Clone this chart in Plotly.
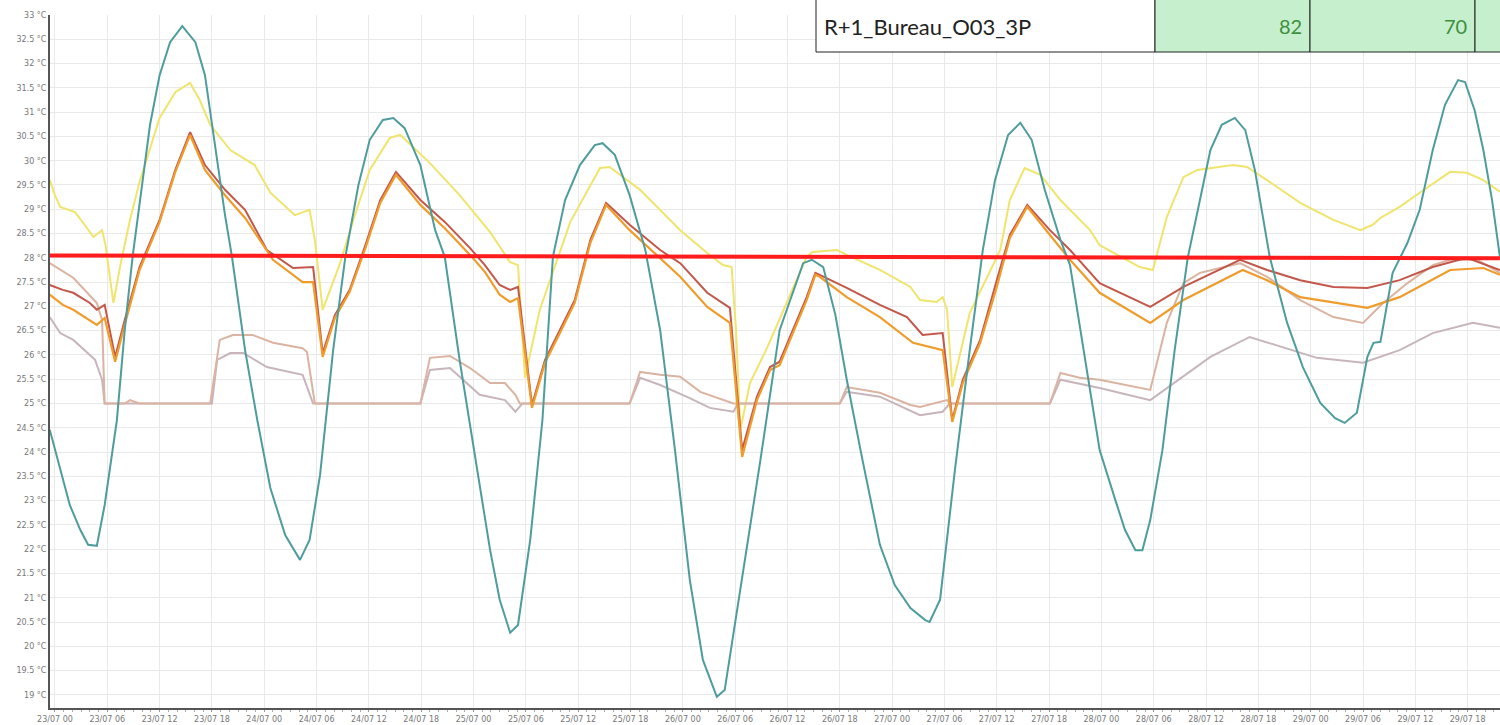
import pandas as pd
import plotly.graph_objects as go

# ---------------- data (hours after 23/07 00:00, temperature in °C) ----------------
OUTDOOR = [(-0.6, 24.46), (0.6, 23.63), (1.7, 22.91), (2.9, 22.40), (3.8, 22.09), (4.8, 22.07),
           (5.7, 22.91), (7.1, 24.66), (8.0, 26.51), (8.9, 28.02), (10.0, 29.50), (10.9, 30.74),
           (12.0, 31.76), (13.2, 32.44), (14.6, 32.77), (16.1, 32.44), (17.2, 31.76), (18.4, 30.22),
           (19.5, 28.88), (20.3, 28.02), (21.8, 26.10), (23.2, 24.66), (24.7, 23.26), (26.4, 22.29),
           (28.1, 21.78), (29.2, 22.19), (30.4, 23.53), (31.9, 26.10), (33.3, 28.02), (34.8, 29.50),
           (36.1, 30.43), (37.6, 30.84), (38.8, 30.88), (40.1, 30.67), (41.9, 29.91), (43.6, 28.57),
           (44.7, 28.02), (46.4, 25.90), (48.2, 23.84), (49.9, 21.98), (51.0, 20.96), (52.2, 20.28),
           (53.1, 20.44), (54.5, 22.19), (55.9, 24.66), (57.1, 28.02), (58.5, 29.19), (60.2, 29.91),
           (61.9, 30.32), (62.8, 30.36), (64.2, 30.12), (65.9, 29.29), (67.7, 28.16), (69.4, 26.51),
           (71.1, 24.04), (72.8, 21.37), (74.3, 19.72), (75.9, 18.96), (76.8, 19.10), (78.6, 21.16),
           (80.9, 23.84), (83.1, 26.51), (84.9, 27.44), (85.8, 27.89), (86.8, 27.96), (88.1, 27.81),
           (89.5, 26.82), (90.8, 25.49), (92.6, 23.84), (94.6, 22.09), (96.3, 21.26), (98.1, 20.79),
           (99.8, 20.54), (100.3, 20.50), (101.5, 20.96), (103.2, 23.63), (104.9, 26.10), (106.4, 28.16),
           (107.8, 29.60), (109.3, 30.53), (110.7, 30.78), (112.0, 30.43), (113.5, 29.40), (115.3, 28.37),
           (116.4, 27.85), (118.1, 25.90), (119.8, 24.04), (121.6, 23.01), (122.7, 22.40), (123.9, 21.98),
           (124.7, 21.98), (125.6, 22.60), (127.0, 24.04), (128.4, 26.10), (129.9, 28.00), (131.3, 29.19),
           (132.5, 30.22), (133.8, 30.74), (135.3, 30.88), (136.5, 30.63), (137.6, 29.81), (139.3, 28.02),
           (141.3, 26.66), (143.1, 25.75), (145.1, 25.01), (146.8, 24.70), (147.9, 24.60), (149.3, 24.81),
           (150.5, 25.96), (151.2, 26.25), (152.0, 26.27), (153.4, 27.69), (155.1, 28.31), (156.5, 28.99),
           (158.0, 30.22), (159.4, 31.15), (160.9, 31.66), (161.7, 31.62), (162.8, 31.04), (163.8, 30.22),
           (164.8, 29.19), (165.7, 28.02)]

YELLOW = [(-0.6, 29.60), (0.0, 29.29), (0.6, 29.05), (2.3, 28.94), (3.4, 28.68), (4.4, 28.43),
          (5.4, 28.57), (5.8, 28.26), (6.7, 27.07), (7.5, 27.85), (8.6, 28.78), (9.7, 29.56),
          (12.0, 30.88), (13.8, 31.41), (15.5, 31.60), (16.6, 31.25), (17.8, 30.74), (20.1, 30.22),
          (22.9, 29.91), (24.7, 29.34), (27.5, 28.88), (29.2, 28.99), (29.8, 28.37), (30.7, 26.93),
          (32.7, 27.89), (34.4, 28.88), (36.1, 29.81), (38.4, 30.47), (39.6, 30.53), (43.0, 29.95),
          (46.4, 29.29), (49.9, 28.53), (52.2, 27.91), (53.1, 27.85), (53.9, 25.53), (55.6, 26.93),
          (59.1, 28.74), (62.5, 29.85), (63.6, 29.87), (67.1, 29.40), (71.7, 28.57), (74.8, 28.10),
          (76.6, 27.85), (77.6, 27.81), (78.1, 26.51), (78.6, 24.46), (79.7, 25.42), (81.7, 26.16),
          (83.9, 27.07), (86.2, 28.02), (86.9, 28.12), (89.7, 28.16), (90.8, 28.06), (94.6, 27.75),
          (98.1, 27.40), (99.2, 27.13), (101.1, 27.09), (101.8, 27.19), (102.3, 26.93), (102.9, 25.34),
          (104.9, 26.86), (108.4, 28.16), (109.5, 29.19), (111.2, 29.85), (113.0, 29.71), (115.3, 29.19),
          (118.7, 28.57), (119.8, 28.26), (124.4, 27.81), (125.9, 27.75), (127.5, 28.84), (129.4, 29.66),
          (131.0, 29.81), (135.1, 29.91), (136.7, 29.87), (139.0, 29.60), (142.8, 29.13), (146.6, 28.78),
          (149.7, 28.57), (151.1, 28.68), (152.0, 28.82), (154.2, 29.05), (156.5, 29.34), (160.0, 29.77),
          (161.9, 29.75), (163.8, 29.60), (165.7, 29.36)]

DARK_RED = [(-0.6, 27.44), (0.9, 27.34), (2.1, 27.28), (4.0, 27.07), (4.8, 26.93), (5.7, 27.03),
            (6.9, 25.96), (8.0, 26.72), (9.7, 27.81), (12.0, 28.78), (13.8, 29.81), (15.5, 30.59),
            (17.2, 29.91), (19.5, 29.40), (21.8, 28.99), (24.3, 28.16), (27.3, 27.79), (29.6, 27.81),
            (30.7, 26.04), (32.1, 26.82), (33.8, 27.34), (35.6, 28.26), (37.3, 29.19), (39.1, 29.77),
            (41.9, 29.19), (44.7, 28.74), (47.6, 28.20), (49.3, 27.85), (51.0, 27.44), (52.2, 27.34),
            (53.1, 27.40), (54.7, 24.97), (56.2, 25.90), (57.9, 26.51), (59.6, 27.13), (61.4, 28.37),
            (63.2, 29.13), (65.9, 28.68), (69.4, 28.16), (71.7, 27.89), (74.8, 27.28), (77.4, 26.97),
            (78.8, 24.04), (80.5, 25.14), (82.0, 25.75), (83.1, 25.86), (84.3, 26.37), (86.2, 27.19),
            (87.2, 27.69), (87.7, 27.65), (90.8, 27.38), (94.6, 27.03), (97.7, 26.78), (99.5, 26.41),
            (101.8, 26.45), (102.9, 24.66), (104.1, 25.49), (106.1, 26.31), (108.0, 27.54), (109.5, 28.47),
            (111.5, 29.09), (114.1, 28.57), (116.4, 28.16), (119.8, 27.48), (125.6, 26.99), (129.4, 27.40),
            (135.9, 27.96), (139.0, 27.75), (142.8, 27.54), (146.6, 27.40), (150.5, 27.38), (154.2, 27.54),
            (158.0, 27.81), (161.9, 28.00), (165.7, 27.75)]

ORANGE = [(-0.6, 27.24), (0.9, 27.03), (2.1, 26.93), (4.0, 26.72), (4.8, 26.62), (5.7, 26.76),
          (6.9, 25.86), (8.0, 26.62), (9.7, 27.75), (12.0, 28.74), (13.8, 29.77), (15.5, 30.53),
          (17.2, 29.81), (19.5, 29.29), (21.8, 28.82), (25.0, 27.96), (28.4, 27.50), (29.6, 27.50),
          (30.7, 25.96), (32.1, 26.76), (33.8, 27.30), (35.6, 28.20), (37.3, 29.13), (39.1, 29.71),
          (41.9, 29.09), (44.7, 28.61), (47.6, 28.06), (49.3, 27.71), (51.0, 27.24), (52.2, 27.09),
          (53.1, 27.17), (54.7, 24.91), (56.2, 25.84), (57.9, 26.45), (59.6, 27.07), (61.4, 28.31),
          (63.2, 29.09), (65.9, 28.57), (69.4, 28.00), (71.7, 27.61), (74.8, 26.99), (77.4, 26.66),
          (78.8, 23.90), (80.5, 25.07), (82.0, 25.69), (83.1, 25.79), (84.3, 26.31), (86.2, 27.13),
          (87.2, 27.65), (87.7, 27.61), (90.8, 27.19), (94.6, 26.78), (98.4, 26.25), (101.8, 26.10),
          (102.9, 24.62), (104.1, 25.42), (106.1, 26.25), (108.0, 27.40), (109.5, 28.41), (111.5, 29.05),
          (114.1, 28.47), (116.4, 27.96), (119.8, 27.28), (125.6, 26.66), (129.4, 27.13), (136.2, 27.75),
          (139.0, 27.54), (142.8, 27.19), (150.5, 26.97), (154.2, 27.19), (160.0, 27.75), (163.8, 27.79),
          (165.7, 27.65)]

TAN = [(-0.6, 27.89), (0.6, 27.75), (2.1, 27.59), (4.8, 27.07), (5.4, 26.72), (5.7, 25.0),
       (8.0, 25.0), (8.6, 25.07), (9.7, 25.0), (17.8, 25.0), (18.9, 26.31), (20.4, 26.41),
       (22.7, 26.41), (25.0, 26.25), (28.4, 26.14), (28.9, 26.06), (29.8, 25.0), (41.9, 25.0),
       (43.0, 25.94), (45.3, 25.98), (47.6, 25.73), (49.9, 25.42), (51.6, 25.42), (52.8, 25.18),
       (53.3, 25.0), (65.9, 25.0), (67.1, 25.65), (69.4, 25.59), (71.7, 25.55), (74.0, 25.24),
       (77.8, 25.0), (90.0, 25.0), (90.8, 25.34), (94.6, 25.22), (98.1, 24.97), (99.2, 24.93),
       (102.3, 25.07), (102.6, 25.0), (114.1, 25.0), (115.3, 25.63), (117.5, 25.53), (119.8, 25.49),
       (125.6, 25.28), (127.5, 26.66), (129.4, 27.48), (131.3, 27.69), (135.9, 27.89), (139.0, 27.61),
       (142.8, 27.13), (146.6, 26.78), (150.0, 26.66), (152.3, 27.07), (155.1, 27.48), (158.0, 27.85),
       (160.0, 27.96), (163.1, 27.96), (165.7, 27.69)]

MAUVE = [(-0.6, 26.78), (0.6, 26.45), (2.1, 26.31), (4.6, 25.90), (5.4, 25.49), (5.7, 25.0),
         (18.0, 25.0), (18.6, 25.90), (20.1, 26.04), (21.6, 26.04), (24.3, 25.75), (28.4, 25.59),
         (29.6, 25.0), (41.9, 25.0), (43.0, 25.69), (45.3, 25.73), (48.7, 25.18), (51.6, 25.07),
         (52.8, 24.83), (53.6, 25.0), (65.9, 25.0), (67.1, 25.53), (69.4, 25.38), (72.8, 25.11),
         (75.1, 24.91), (77.8, 24.83), (78.3, 25.0), (90.0, 25.0), (90.8, 25.24), (94.6, 25.14),
         (99.2, 24.76), (101.8, 24.83), (102.6, 25.0), (114.1, 25.0), (115.3, 25.49), (119.8, 25.32),
         (125.6, 25.07), (129.4, 25.55), (132.5, 25.96), (137.0, 26.37), (140.8, 26.16), (144.7, 25.94),
         (150.0, 25.84), (154.2, 26.10), (158.0, 26.45), (162.6, 26.66), (165.7, 26.56)]

THRESHOLD = [(-0.6, 28.05), (165.7, 27.99)]

TABLE_NAME = "R+1_Bureau_O03_3P"
TABLE_VALUES = ["82", "70"]

X_START_H, X_END_H = -0.57, 165.71
Y_MIN, Y_MAX = 18.73, 33.0
BASE = pd.Timestamp("2023-07-23 00:00")
Y_TICKS = [19 + 0.5 * i for i in range(29)]


def to_xy(pairs):
    hrs = [p[0] for p in pairs]
    vals = [p[1] for p in pairs]
    return BASE + pd.to_timedelta(hrs, unit="h"), vals


fig = go.Figure()
series = [
    (YELLOW, "#f0e46c", 2),
    (MAUVE, "#c8b5bc", 2),
    (TAN, "#dbb3a1", 2),
    (DARK_RED, "#c2574a", 2),
    (ORANGE, "#ef9c2c", 2.2),
    (OUTDOOR, "#4f9c9c", 2),
    (THRESHOLD, "#ff1c1c", 4),
]
for data, color, width in series:
    x, y = to_xy(data)
    fig.add_trace(go.Scatter(x=x, y=y, mode="lines",
                             line=dict(color=color, width=width), hoverinfo="skip"))

# table drawn at top right
L, T, B = 50, 15, 708
PW, PH = 1450, B - T


def px(xp):
    return (xp - L) / PW


def py(yp):
    return (B - yp) / PH


cells = [(816, 1155, "white"), (1155, 1310, "#c6efce"), (1310, 1475, "#c6efce"), (1475, 1520, "#c6efce")]
shapes = []
for x0, x1, fill in cells:
    shapes.append(dict(type="rect", xref="paper", yref="paper", x0=px(x0), x1=px(x1),
                       y0=py(52), y1=py(-2), fillcolor=fill, line=dict(color="#222", width=1),
                       layer="above"))
annotations = [
    dict(text=TABLE_NAME, xref="paper", yref="paper", x=px(822), y=py(26), xanchor="left",
         yanchor="middle", showarrow=False, font=dict(family="Lato", size=22, color="#222")),
    dict(text=TABLE_VALUES[0], xref="paper", yref="paper", x=px(1304), y=py(26), xanchor="right",
         yanchor="middle", showarrow=False, font=dict(family="Lato", size=20, color="#3d8f3d")),
    dict(text=TABLE_VALUES[1], xref="paper", yref="paper", x=px(1469), y=py(26), xanchor="right",
         yanchor="middle", showarrow=False, font=dict(family="Lato", size=20, color="#3d8f3d")),
]

fig.update_layout(
    width=1500, height=725,
    margin=dict(l=L, r=0, t=T, b=725 - B),
    paper_bgcolor="white", plot_bgcolor="white",
    showlegend=False,
    shapes=shapes, annotations=annotations,
    font=dict(family="DejaVu Sans", size=8, color="#777"),
)
fig.update_xaxes(
    type="date", automargin=False,
    range=[BASE + pd.Timedelta(hours=X_START_H), BASE + pd.Timedelta(hours=X_END_H)],
    tick0=BASE, dtick=6 * 3600 * 1000, tickformat="%d/%m %H",
    showgrid=True, gridcolor="#e9e9e9", gridwidth=1,
    showline=True, linecolor="#555", linewidth=2,
    ticks="outside", ticklen=2, tickcolor="#999",
    minor=dict(dtick=3600 * 1000, ticks="outside", ticklen=2, tickcolor="#aaa", showgrid=False),
    tickfont=dict(size=8, color="#777"), zeroline=False,
)
fig.update_yaxes(
    automargin=False,
    range=[Y_MIN, Y_MAX],
    tickvals=Y_TICKS, ticktext=[f"{v:g} °C" for v in Y_TICKS],
    showgrid=True, gridcolor="#e9e9e9", gridwidth=1,
    showline=True, linecolor="#555", linewidth=2,
    ticks="", tickfont=dict(size=8, color="#777"), zeroline=False,
)

fig.write_html("out.html", config={"displayModeBar": False},
               post_script="document.body.style.margin='0';")
